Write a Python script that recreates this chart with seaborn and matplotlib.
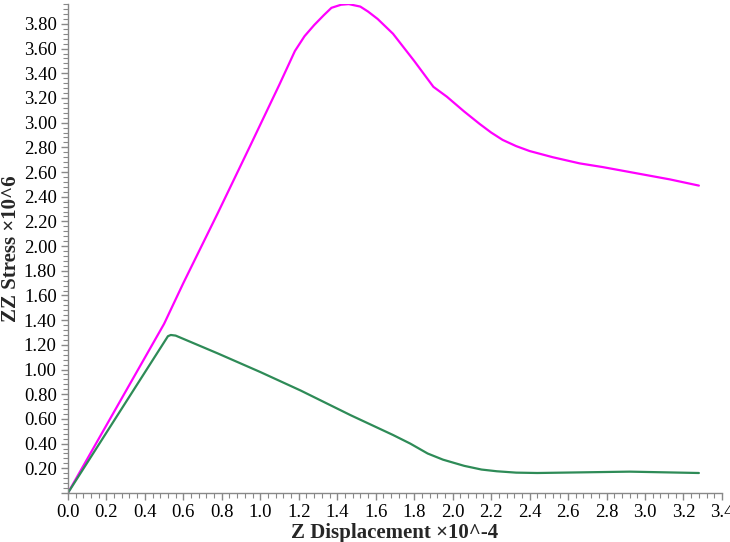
import pandas as pd
import matplotlib
matplotlib.use('Agg')
import matplotlib.pyplot as plt
from matplotlib.ticker import MultipleLocator, FormatStrFormatter, FuncFormatter
import seaborn as sns


# magenta curve
mag_x = [0, 0.50, 0.60, 0.78, 0.95, 1.10, 1.18, 1.23, 1.28, 1.33, 1.37, 1.42, 1.46,
         1.52, 1.56, 1.61, 1.69, 1.80, 1.90, 1.97, 2.06, 2.14, 2.20, 2.26, 2.33, 2.40,
         2.52, 2.66, 2.78, 2.99, 3.13, 3.28]
mag_y = [0, 1.37, 1.70, 2.27, 2.82, 3.31, 3.58, 3.70, 3.79, 3.87, 3.93, 3.955, 3.96,
         3.94, 3.90, 3.84, 3.72, 3.50, 3.29, 3.21, 3.09, 2.99, 2.92, 2.86, 2.81, 2.77,
         2.72, 2.67, 2.64, 2.58, 2.54, 2.49]

# green curve
grn_x = [0, 0.52, 0.535, 0.56, 0.78, 1.00, 1.21, 1.47, 1.69, 1.78, 1.87, 1.95, 2.06,
         2.15, 2.23, 2.33, 2.44, 2.66, 2.92, 3.28]
grn_y = [0, 1.27, 1.28, 1.275, 1.13, 0.98, 0.83, 0.63, 0.47, 0.40, 0.32, 0.27, 0.22,
         0.19, 0.176, 0.165, 0.162, 0.167, 0.173, 0.162]

x_label = "Z Displacement \u00d710^-4"
y_label = "ZZ Stress \u00d710^6"


sns.set_style("ticks")
plt.rcParams['font.family'] = ['Liberation Serif', 'DejaVu Serif']

df_mag = pd.DataFrame({'x': mag_x, 'y': mag_y})
df_grn = pd.DataFrame({'x': grn_x, 'y': grn_y})

fig = plt.figure(figsize=(7.3, 5.42), dpi=100)
ax = fig.add_axes([0.093, 0.0904, 0.896, 0.902])

sns.lineplot(data=df_mag, x='x', y='y', color='#ff00ff', lw=1.6, sort=False, ax=ax)
sns.lineplot(data=df_grn, x='x', y='y', color='#2e8b57', lw=1.6, sort=False, ax=ax)

ax.set_xlim(0, 3.4)
ax.set_ylim(0, 3.96)

ax.xaxis.set_major_locator(MultipleLocator(0.2))
ax.xaxis.set_minor_locator(MultipleLocator(0.04))
ax.yaxis.set_major_locator(MultipleLocator(0.2))
ax.yaxis.set_minor_locator(MultipleLocator(0.04))
ax.xaxis.set_major_formatter(FormatStrFormatter('%.1f'))
ax.yaxis.set_major_formatter(FuncFormatter(lambda v, p: '' if abs(v) < 1e-9 else f'{v:.2f}'))

ax.tick_params(axis='both', which='major', length=5, width=1, color='#888888',
               labelsize=13.5, labelcolor='black', pad=3)
ax.tick_params(axis='both', which='minor', length=3.5, width=0.8, color='#888888')

for side in ['top', 'right']:
    ax.spines[side].set_visible(False)
for side in ['left', 'bottom']:
    ax.spines[side].set_color('#888888')
    ax.spines[side].set_linewidth(1)

ax.set_xlabel(x_label, fontsize=15, fontweight='bold', labelpad=1)
ax.set_ylabel(y_label, fontsize=15, fontweight='bold', labelpad=2)

fig.savefig('out.png', dpi=100)
